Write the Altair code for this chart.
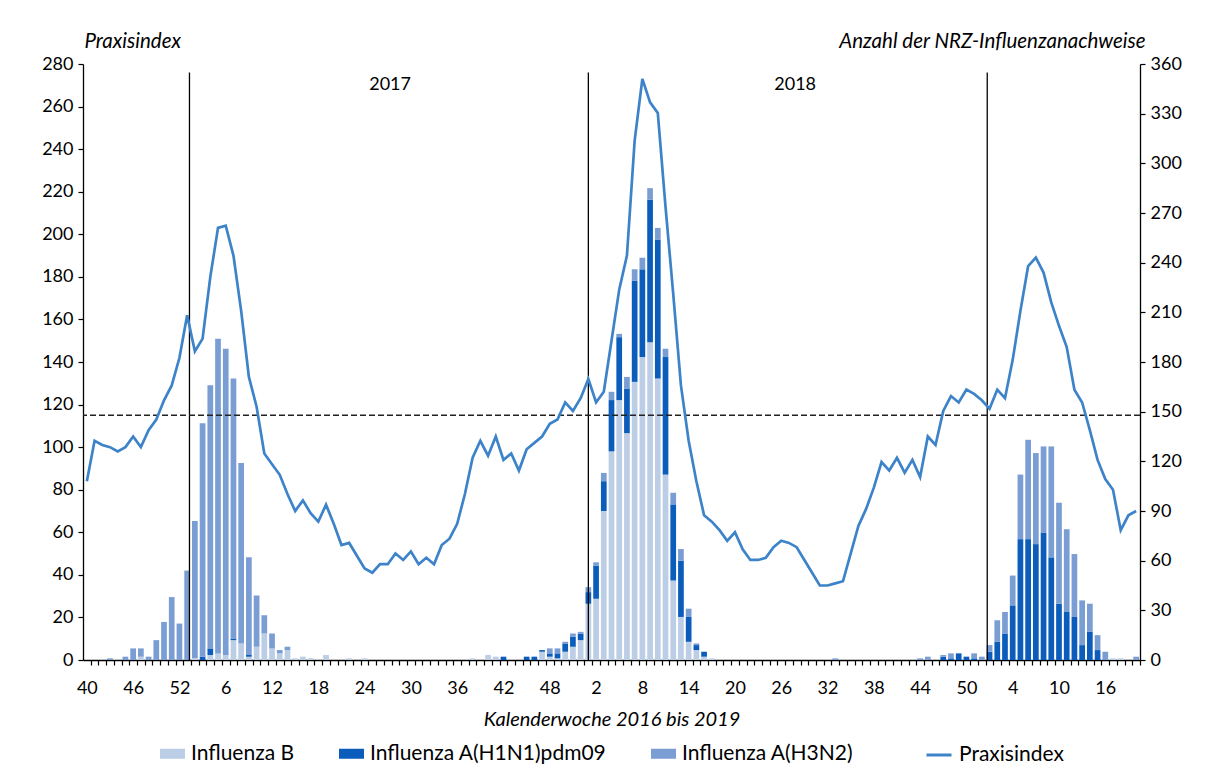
import json
import altair as alt
import pandas as pd

# ---------------- data ----------------
weeks = list(range(40, 53)) + list(range(1, 53)) + list(range(1, 53)) + list(range(1, 21))

praxisindex = [
    84, 103, 101, 100, 98, 100, 105, 100, 108, 113,
    122, 129, 142, 162, 145, 151, 180, 203, 204, 190,
    164, 133, 119, 97, 92, 87, 78, 70, 75, 69,
    65, 73, 64, 54, 55, 49, 43, 41, 45, 45,
    50, 47, 51, 45, 48, 45, 54, 57, 64, 78,
    95, 103, 96, 105, 94, 97, 89, 99, 102, 105,
    111, 113, 121, 117, 123, 132, 121, 126, 150, 174,
    190, 244, 273, 262, 257, 213, 172, 129, 103, 84,
    68, 65, 61, 56, 60, 52, 47, 47, 48, 53,
    56, 55, 53, 47, 41, 35, 35, 36, 37, 50,
    63, 71, 81, 93, 89, 95, 88, 94, 86, 105,
    101, 117, 124, 121, 127, 125, 122, 118, 127, 123,
    141, 164, 185, 189, 182, 168, 157, 147, 127, 121,
    108, 94, 85, 80, 61, 68, 70,
]

influenza_b = [
    0, 0, 0, 0, 0, 0, 0, 2, 0, 0,
    0, 0, 0, 0, 1, 0, 3, 4, 3, 12,
    10, 2, 8, 16, 7, 4, 6, 1, 2, 1,
    0, 3, 0, 0, 1, 0, 1, 0, 0, 0,
    0, 0, 0, 0, 0, 0, 0, 0, 0, 0,
    1, 0, 3, 2, 0, 0, 0, 0, 0, 5,
    2, 1, 5, 8, 12, 34, 37, 90, 126, 157,
    137, 168, 183, 192, 170, 112, 48, 26, 11, 6,
    2, 1, 0, 0, 0, 0, 0, 0, 0, 0,
    0, 0, 0, 0, 0, 0, 0, 0, 0, 0,
    0, 0, 0, 0, 0, 0, 0, 0, 0, 0,
    0, 0, 0, 0, 0, 0, 0, 0, 0, 0,
    0, 0, 0, 0, 0, 0, 0, 0, 0, 0,
    0, 0, 0, 1, 1, 0, 0,
]

influenza_h1n1 = [
    0, 0, 0, 0, 0, 0, 0, 0, 0, 0,
    0, 0, 0, 0, 0, 2, 4, 0, 0, 1,
    0, 1, 0, 0, 0, 0, 0, 0, 0, 0,
    0, 0, 0, 0, 0, 0, 0, 0, 0, 0,
    0, 0, 0, 0, 0, 0, 0, 0, 0, 0,
    0, 0, 0, 0, 2, 0, 0, 2, 2, 1,
    2, 3, 5, 6, 4, 7, 20, 18, 31, 38,
    27, 61, 53, 86, 84, 71, 46, 34, 15, 3,
    3, 0, 0, 0, 0, 0, 0, 0, 0, 0,
    0, 0, 0, 0, 0, 0, 0, 0, 0, 0,
    0, 0, 0, 0, 0, 0, 0, 0, 0, 0,
    0, 2, 1, 4, 2, 1, 0, 5, 11, 16,
    33, 73, 73, 70, 77, 62, 34, 29, 26, 9,
    17, 6, 0, 0, 0, 0, 0,
]

influenza_h3n2 = [
    0, 0, 0, 1, 0, 2, 7, 5, 2, 12,
    23, 38, 22, 54, 83, 141, 159, 190, 185, 157,
    109, 59, 31, 11, 9, 2, 2, 0, 0, 0,
    0, 0, 0, 0, 0, 0, 0, 0, 0, 0,
    0, 0, 0, 0, 0, 0, 0, 0, 0, 0,
    0, 0, 0, 0, 0, 0, 0, 0, 0, 0,
    3, 3, 1, 2, 1, 3, 2, 5, 5, 2,
    7, 7, 7, 7, 7, 5, 7, 7, 5, 1,
    0, 0, 0, 0, 0, 0, 0, 0, 0, 0,
    0, 0, 0, 0, 0, 0, 0, 1, 0, 0,
    0, 0, 0, 0, 0, 0, 0, 0, 1, 2,
    0, 1, 3, 0, 0, 3, 2, 4, 13, 13,
    18, 39, 60, 55, 52, 67, 61, 50, 38, 27,
    17, 9, 5, 0, 0, 0, 2,
]

series_names = ["Influenza B", "Influenza A(H1N1)pdm09", "Influenza A(H3N2)"]
series_colors = ["#BCCDE6", "#0B5CBB", "#7A9DD3"]
line_name = "Praxisindex"
line_color = "#3D83C9"
threshold = [115]
year_lines = [13.3, 65.0, 116.7]
year_labels = ["2017", "2018"]
year_label_pos = [39.3, 91.8]
year_label_level = [270, 270]
year_line_top = 276

FONT = "Lato"
FS = 18
TFS = 20.5
LFS = 21

# ---------------- tables ----------------
n = len(weeks)
idx = list(range(n))
rows = []
for k in idx:
    base = 0
    for name, vals in zip(series_names, [influenza_b, influenza_h1n1, influenza_h3n2]):
        v = vals[k]
        if v > 0:
            rows.append({"k": k, "series": name, "y0": base, "y1": base + v})
        base += v
bars_df = pd.DataFrame(rows)
line_df = pd.DataFrame({"k": idx, "value": praxisindex, "name": [line_name] * n})
thr_df = pd.DataFrame({"v": threshold})
yl_df = pd.DataFrame({"pos": year_lines, "bottom": [0] * len(year_lines), "top": [year_line_top] * len(year_lines)})
yt_df = pd.DataFrame({"pos": year_label_pos, "lvl": year_label_level, "label": year_labels})

tick_labels = [str(w) if i % 6 == 0 else "" for i, w in enumerate(weeks)]
label_expr = "(" + json.dumps(tick_labels) + ")[datum.value] || ''"

xscale = alt.Scale(domain=[-0.5, n - 0.5], nice=False, zero=False)
xaxis = alt.Axis(
    values=idx, labelExpr=label_expr, tickSize=5, tickOffset=3.86, labelOffset=-3.86,
    labelPadding=14, labelFontSize=FS, labelOverlap=False, labelFlush=False, grid=False,
    title="Kalenderwoche 2016 bis 2019", titleFontStyle="italic", titleFontWeight="normal",
    titleFontSize=20, titleBaseline="alphabetic", titleY=65,
)
left_scale = alt.Scale(domain=[0, 280], nice=False)
left_axis = alt.Axis(
    orient="left", values=list(range(0, 281, 20)), tickSize=5, labelPadding=5, grid=False,
    labelFontSize=FS, title="Praxisindex", titleAngle=0, titleAlign="left", titleX=1, titleY=-17,
    titleBaseline="alphabetic", titleFontStyle="italic", titleFontWeight="normal", titleFontSize=TFS,
)
right_scale = alt.Scale(domain=[0, 360], nice=False)
right_axis = alt.Axis(
    orient="right", values=list(range(0, 361, 30)), tickSize=5, labelPadding=5, grid=False,
    labelFontSize=FS, title="Anzahl der NRZ-Influenzanachweise", titleAngle=0, titleAlign="right",
    titleX=5, titleY=-17, titleBaseline="alphabetic", titleFontStyle="italic",
    titleFontWeight="normal", titleFontSize=TFS,
)

bars = alt.Chart(bars_df).mark_bar().transform_calculate(
    x0="datum.k - 0.37", x1="datum.k + 0.37"
).encode(
    x=alt.X("x0:Q", scale=xscale, axis=xaxis),
    x2="x1:Q",
    y=alt.Y("y1:Q", scale=right_scale, axis=right_axis),
    y2="y0:Q",
    fill=alt.Fill(
        "series:N",
        scale=alt.Scale(domain=series_names, range=series_colors),
        legend=alt.Legend(
            orient="none", legendX=77, legendY=677, direction="horizontal", title=None,
            symbolType="M-1,-0.4H1V0.4H-1Z", symbolSize=625, symbolStrokeWidth=0,
            labelFontSize=LFS, labelFont=FONT, labelColor="black", labelOffset=6,
            labelLimit=500, columnPadding=44,
        ),
    ),
)

line = alt.Chart(line_df).mark_line(strokeWidth=2.7, strokeJoin="miter").encode(
    x=alt.X("k:Q", scale=xscale, axis=xaxis),
    y=alt.Y("value:Q", scale=left_scale, axis=left_axis),
    stroke=alt.Stroke(
        "name:N",
        scale=alt.Scale(domain=[line_name], range=[line_color]),
        legend=alt.Legend(
            orient="none", legendX=842, legendY=677, direction="horizontal", title=None,
            symbolType="stroke", symbolSize=625, symbolStrokeWidth=3,
            labelFontSize=LFS, labelFont=FONT, labelColor="black", labelOffset=6,
            labelLimit=500,
        ),
    ),
)

thr = alt.Chart(thr_df).mark_rule(color="#222222", strokeWidth=1.4, strokeDash=[6, 3]).encode(
    y=alt.Y("v:Q", scale=left_scale, axis=left_axis),
)

ylines = alt.Chart(yl_df).mark_rule(color="black", strokeWidth=1.3).encode(
    x=alt.X("pos:Q", scale=xscale, axis=xaxis),
    y=alt.Y("top:Q", scale=left_scale, axis=left_axis),
    y2="bottom:Q",
)

ytext = alt.Chart(yt_df).mark_text(font=FONT, fontSize=FS, color="black").encode(
    x=alt.X("pos:Q", scale=xscale, axis=xaxis),
    y=alt.Y("lvl:Q", scale=left_scale, axis=left_axis),
    text="label:N",
)

left_group = alt.layer(ylines, thr, ytext, line)

chart = alt.layer(bars, left_group).resolve_scale(
    y="independent", fill="independent", stroke="independent"
).properties(
    width=1057, height=596,
    autosize=alt.AutoSizeParams(type="none"),
    padding={"left": 75, "top": 56, "right": 60, "bottom": 110},
).configure_view(stroke=None).configure_axis(
    labelFont=FONT, titleFont=FONT, labelColor="black", titleColor="black",
    domainColor="black", tickColor="black", domainWidth=1.3, tickWidth=1.2,
)

chart.save("out.html", embed_options={"renderer": "svg", "actions": False})
